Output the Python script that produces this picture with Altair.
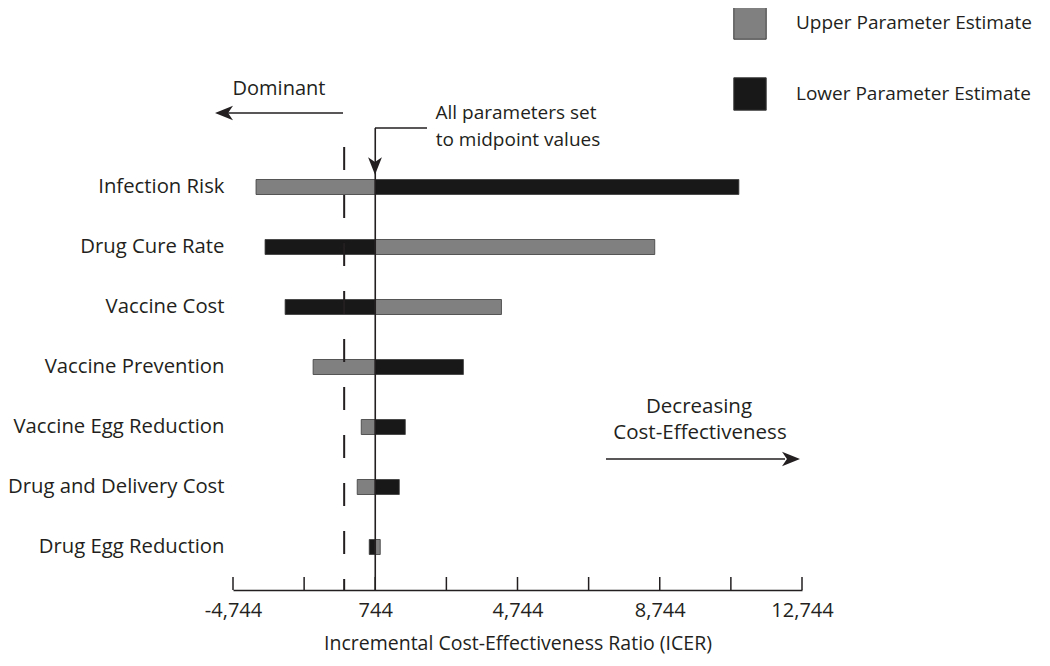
import altair as alt
import pandas as pd

# ---------------- data ----------------
params = ["Infection Risk", "Drug Cure Rate", "Vaccine Cost", "Vaccine Prevention",
          "Vaccine Egg Reduction", "Drug and Delivery Cost", "Drug Egg Reduction"]
upper_values = [-2608, 8603, 4293, -1003, 350, 237, 885]
lower_values = [10969, -2355, -1791, 3223, 1589, 1420, 575]
series = ["Upper Parameter Estimate", "Lower Parameter Estimate"]
midpoint = 744
dominance_line = -130
tick_values = [-3256, -1256, 744, 2744, 4744, 6744, 8744, 10744, 12744]
tick_labels = ["-4,744", "", "744", "", "4,744", "", "8,744", "", "12,744"]
x_title = "Incremental Cost-Effectiveness Ratio (ICER)"

FONT = "Open Sans"
TXT = "#231f20"
W, H = 569, 420

rows = []
for p, u, l in zip(params, upper_values, lower_values):
    rows.append({"param": p, "estimate": series[0], "value": u, "base": midpoint})
    rows.append({"param": p, "estimate": series[1], "value": l, "base": midpoint})
df = pd.DataFrame(rows)
ticks_df = pd.DataFrame({"t": tick_values})
one = alt.InlineData(values=[{"a": 0}])

label_expr = ""
for v, lab in zip(tick_values, tick_labels):
    label_expr += f"datum.value == {v} ? '{lab}' : "
label_expr += "''"

xscale = alt.Scale(domain=[tick_values[0], tick_values[-1]], nice=False, zero=False)

bars = alt.Chart(df).mark_bar(size=15, stroke="#3a3a3a", strokeWidth=0.8).encode(
    y=alt.Y("param:N", sort=params, title=None,
            axis=alt.Axis(domain=False, ticks=False, labelPadding=9, labelFontSize=20.3,
                          labelFont=FONT, labelColor=TXT, labelLimit=400)),
    x=alt.X("value:Q", scale=xscale, title=x_title,
            axis=alt.Axis(values=tick_values, labelExpr=label_expr, ticks=False, tickSize=0,
                          grid=False, offset=13, domainColor=TXT, domainWidth=1.5,
                          labelFontSize=20, labelFont=FONT, labelColor=TXT, labelPadding=10,
                          labelFlush=False, labelOverlap=False,
                          titleFontSize=19.5, titleFont=FONT, titleColor=TXT,
                          titleFontWeight="normal", titlePadding=14)),
    x2="base:Q",
    color=alt.Color("estimate:N", scale=alt.Scale(domain=series, range=["#808080", "#181818"]),
                    legend=alt.Legend(title=None, orient="none", legendX=500, legendY=-151,
                                      symbolType="square", symbolSize=1050,
                                      symbolStrokeColor="#3a3a3a", symbolStrokeWidth=1,
                                      labelFontSize=19, labelFont=FONT, labelColor=TXT,
                                      labelOffset=29, rowPadding=33, padding=0,
                                      labelLimit=400)),
)

axis_ticks = alt.Chart(ticks_df).mark_rule(color=TXT, strokeWidth=1.5).encode(
    x=alt.X("t:Q", scale=xscale), y=alt.value(H), y2=alt.value(H + 13))

dashed = alt.Chart(one).mark_rule(color=TXT, strokeWidth=2, strokeDash=[23, 25]).encode(
    x=alt.datum(dominance_line, type="quantitative", scale=xscale),
    y=alt.value(-10), y2=alt.value(H + 13))

mid_line = alt.Chart(one).mark_rule(color=TXT, strokeWidth=1.6).encode(
    x=alt.datum(midpoint, type="quantitative", scale=xscale),
    y=alt.value(-29), y2=alt.value(H + 13))


def hline(x1, x2, y):
    return alt.Chart(one).mark_rule(color=TXT, strokeWidth=1.6).encode(
        x=alt.value(x1), x2=alt.value(x2), y=alt.value(y))


def text(s, x, y, size):
    return alt.Chart(one).mark_text(font=FONT, fontSize=size, color=TXT, align="center",
                                    baseline="middle").encode(
        x=alt.value(x), y=alt.value(y), text=alt.value(s))


def head(path, x, y, size):
    return alt.Chart(one).mark_point(shape=path, filled=True, color=TXT, size=size, opacity=1,
                                     strokeWidth=0).encode(x=alt.value(x), y=alt.value(y))


RIGHT = "M1,0 L-1,-0.8 L-0.45,0 L-1,0.8 Z"
LEFT = "M-1,0 L1,-0.8 L0.45,0 L1,0.8 Z"
DOWN = "M0,1 L-0.8,-1 L0,-0.45 L0.8,-1 Z"

annotations = [
    text("Dominant", 46, -68, 20),
    hline(-5, 110, -44),
    head(LEFT, -9, -44, 324),
    text("All parameters set", 283, -44, 19),
    text("to midpoint values", 285, -17, 19),
    hline(142, 194, -29),
    head(DOWN, 142, 9, 300),
    text("Decreasing", 466, 250, 20.5),
    text("Cost-Effectiveness", 467, 276, 20.5),
    hline(373, 552, 302),
    head(RIGHT, 558, 302, 324),
]

chart = alt.layer(bars, axis_ticks, dashed, mid_line, *annotations).properties(
    width=W, height=H, autosize="none", background="white",
    padding={"left": 225, "top": 149, "right": 240, "bottom": 81},
).configure_view(stroke=None, strokeWidth=0)

chart.save("out.html", embed_options={"renderer": "svg", "actions": False})
